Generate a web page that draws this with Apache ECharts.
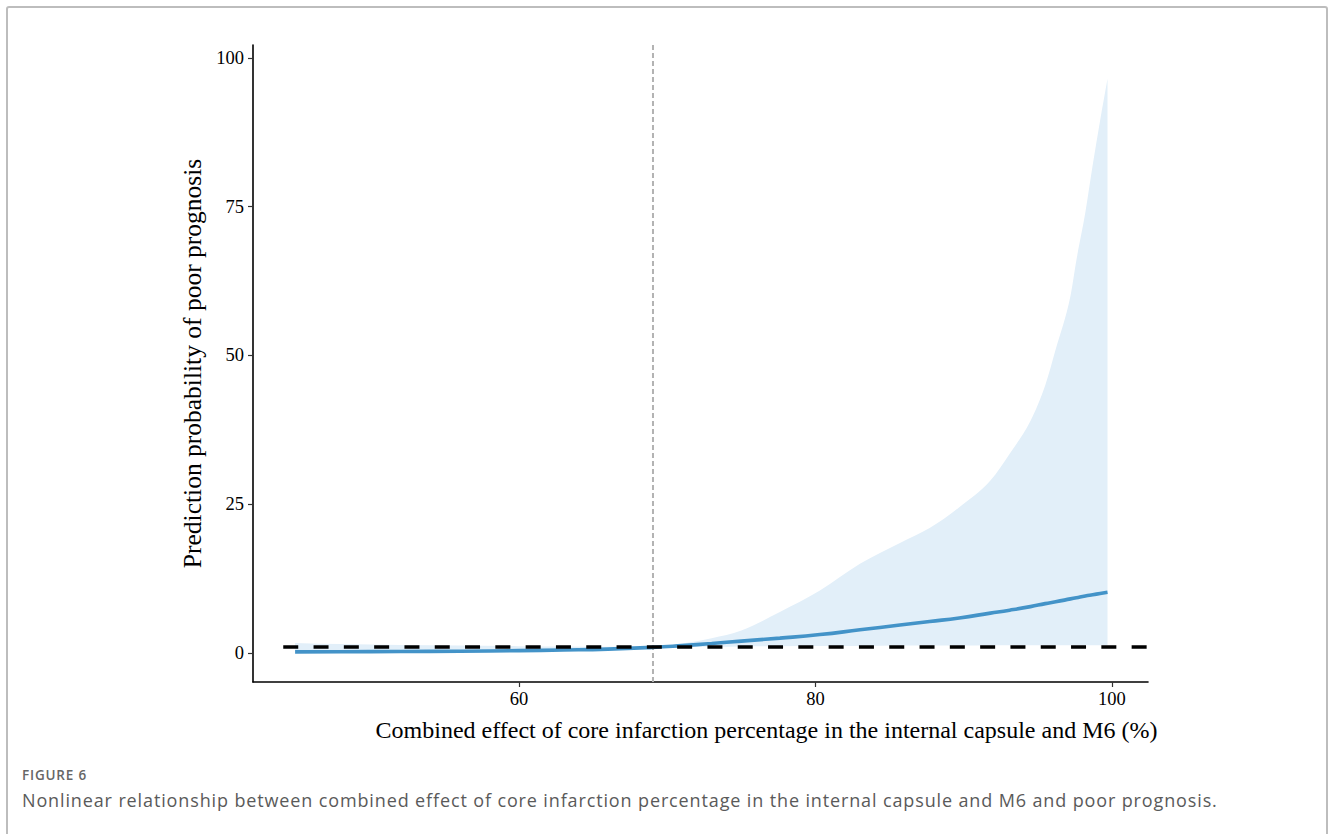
<!DOCTYPE html>
<html>
<head>
<meta charset="utf-8">
<script src="https://cdn.jsdelivr.net/npm/echarts@6/dist/echarts.min.js"></script>
<style>
html,body{margin:0;padding:0;background:#fff;}
#wrap{position:relative;width:1332px;height:834px;overflow:hidden;}
#frame{position:absolute;left:6px;top:6px;width:1322px;height:900px;border:2px solid #bdbdbd;border-radius:3px;box-sizing:border-box;}
#chart{position:absolute;left:0;top:0;width:1332px;height:834px;}
#figlabel{position:absolute;left:22px;top:766px;font:600 13.5px "Open Sans",sans-serif;letter-spacing:0.8px;color:#666;white-space:nowrap;}
#figcap{position:absolute;left:22px;top:788px;font:400 18px "Open Sans",sans-serif;letter-spacing:0.87px;color:#5a5a5a;white-space:nowrap;}
</style>
</head>
<body>
<div id="wrap">
<div id="frame"></div>
<div id="chart"></div>
<div id="figlabel"></div>
<div id="figcap"></div>
</div>
<script>
// ---- data ----
const xValues = [44.9, 48, 52, 56, 60, 63, 66, 69, 71, 73, 75, 77.6, 80.3, 83, 85.7, 87.7, 89.7, 91.8, 93.1, 94.5, 95.5, 96.2, 97.2, 97.6, 98.2, 98.7, 99.2, 99.7];
const fitValues = [0.2, 0.22, 0.25, 0.3, 0.4, 0.5, 0.65, 0.95, 1.25, 1.6, 2.0, 2.5, 3.1, 3.9, 4.7, 5.3, 5.9, 6.7, 7.2, 7.8, 8.3, 8.6, 9.1, 9.3, 9.6, 9.8, 10.0, 10.2];
const upperValues = [1.7, 1.5, 1.35, 1.25, 1.15, 1.1, 1.05, 1.1, 1.6, 2.5, 3.8, 6.9, 10.5, 15.0, 18.5, 21.0, 24.5, 29.0, 33.5, 39, 45, 51, 60, 66, 74, 82, 89.5, 96.5];
const lowerValues = [0.05, 0.07, 0.1, 0.15, 0.25, 0.4, 0.55, 0.85, 1.0, 1.05, 1.1, 1.15, 1.2, 1.2, 1.25, 1.25, 1.25, 1.3, 1.3, 1.3, 1.3, 1.3, 1.3, 1.3, 1.3, 1.3, 1.3, 1.3];
const refY = 1;          // horizontal dashed reference
const refX = 69.04;      // vertical dotted reference (knot)
const hlineStartX = 44.1;
const xTicks = [60, 80, 100];
const yTicks = [0, 25, 50, 75, 100];
const xRange = [42.06, 102.43];
const yRange = [-4.87, 102.18];
const xTitle = 'Combined effect of core infarction percentage in the internal capsule and M6 (%)';
const yTitle = 'Prediction probability of poor prognosis';
const figLabel = 'FIGURE 6';
const figCaption = 'Nonlinear relationship between combined effect of core infarction percentage in the internal capsule and M6 and poor prognosis.';

document.getElementById('figlabel').textContent = figLabel;
document.getElementById('figcap').textContent = figCaption;

const chart = echarts.init(document.getElementById('chart'), null, {renderer: 'svg'});
const serif = '"Liberation Serif", "Times New Roman", serif';

// monotone cubic path through pixel points (rendering helper only)
function monoSegments(p, startCmd) {
  const n = p.length;
  const d = [], m = [];
  for (let i = 0; i < n - 1; i++) d.push((p[i + 1][1] - p[i][1]) / (p[i + 1][0] - p[i][0]));
  for (let i = 0; i < n; i++) {
    if (i === 0) m.push(d[0]);
    else if (i === n - 1) m.push(d[n - 2]);
    else m.push(d[i - 1] * d[i] <= 0 ? 0 : (d[i - 1] + d[i]) / 2);
  }
  for (let i = 0; i < n - 1; i++) {
    if (d[i] === 0) { m[i] = 0; m[i + 1] = 0; continue; }
    const a = m[i] / d[i], b = m[i + 1] / d[i];
    const s = a * a + b * b;
    if (s > 9) { const t = 3 / Math.sqrt(s); m[i] = t * a * d[i]; m[i + 1] = t * b * d[i]; }
  }
  let path = startCmd + p[0][0] + ' ' + p[0][1];
  for (let i = 0; i < n - 1; i++) {
    const h = (p[i + 1][0] - p[i][0]) / 3;
    path += ' C' + (p[i][0] + h) + ' ' + (p[i][1] + m[i] * h) + ' ' +
      (p[i + 1][0] - h) + ' ' + (p[i + 1][1] - m[i + 1] * h) + ' ' +
      p[i + 1][0] + ' ' + p[i + 1][1];
  }
  return path;
}

const bandData = xValues.map((x, i) => [x, lowerValues[i], upperValues[i]]);

const option = {
  animation: false,
  grid: {left: 253, top: 45, right: 184, bottom: 152, containLabel: false},
  xAxis: {
    type: 'value', min: xRange[0], max: xRange[1],
    name: xTitle, nameLocation: 'middle', nameGap: 36,
    nameTextStyle: {fontFamily: serif, fontSize: 24, color: '#000', padding: [0, 0, 0, 132]},
    axisLine: {show: true, onZero: false, lineStyle: {color: '#000', width: 1.6}},
    axisTick: {show: true, customValues: xTicks, length: 5, lineStyle: {color: '#333', width: 1.2}},
    axisLabel: {customValues: xTicks, fontFamily: serif, fontSize: 18.5, color: '#000', margin: 7},
    splitLine: {show: false}
  },
  yAxis: {
    type: 'value', min: yRange[0], max: yRange[1],
    name: yTitle, nameLocation: 'middle', nameGap: 46,
    nameTextStyle: {fontFamily: serif, fontSize: 25.5, color: '#000'},
    axisLine: {show: true, onZero: false, lineStyle: {color: '#000', width: 1.6}},
    axisTick: {show: true, customValues: yTicks, length: 5, lineStyle: {color: '#333', width: 1.2}},
    axisLabel: {customValues: yTicks, fontFamily: serif, fontSize: 18.5, color: '#000', margin: 9},
    splitLine: {show: false}
  },
  series: [
    {
      type: 'custom', name: 'CI', z: 1,
      data: bandData,
      encode: {x: 0, y: [1, 2]},
      renderItem: function (params, api) {
        if (params.dataIndex !== 0) return;
        const up = bandData.map(r => api.coord([r[0], r[2]]));
        const lo = bandData.map(r => api.coord([r[0], r[1]])).reverse();
        const pathData = monoSegments(up, 'M') + ' L' + lo[0][0] + ' ' + lo[0][1] +
          monoSegments(lo, ' L').slice(('L' + lo[0][0] + ' ' + lo[0][1]).length + 1) + ' Z';
        return {type: 'path', shape: {pathData: pathData}, style: {fill: '#e2eff9', stroke: null}};
      },
      silent: true
    },
    {
      type: 'line', name: 'fit', z: 3,
      data: xValues.map((x, i) => [x, fitValues[i]]),
      showSymbol: false, smooth: true,
      lineStyle: {color: '#4393c8', width: 3.6}
    },
    {
      type: 'line', name: 'vref', z: 2,
      data: [[refX, yRange[0]], [refX, yRange[1]]],
      showSymbol: false,
      lineStyle: {color: '#b3b3b3', width: 2, type: [5, 3]}
    },
    {
      type: 'line', name: 'href', z: 4,
      data: [[hlineStartX, refY], [xRange[1], refY]],
      showSymbol: false,
      lineStyle: {color: '#000', width: 3.6, type: [15, 15.3]}
    }
  ]
};
chart.setOption(option);
</script>
</body>
</html>
